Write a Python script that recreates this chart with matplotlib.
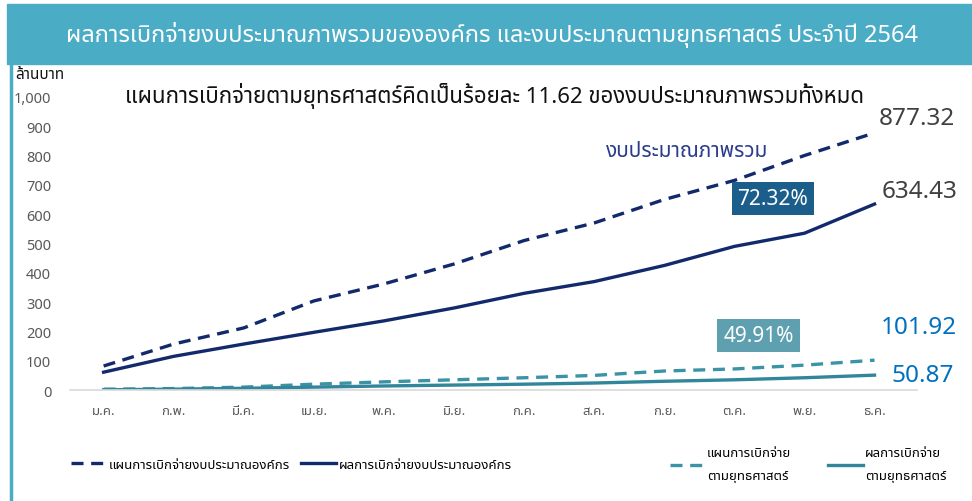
import matplotlib
matplotlib.use("Agg")
import matplotlib.pyplot as plt
from matplotlib.lines import Line2D
from matplotlib.patches import Rectangle

plt.rcParams["font.family"] = ["Noto Sans Thai", "Noto Sans", "DejaVu Sans"]

MONTHS = ["ม.ค.", "ก.พ.", "มี.ค.", "เม.ย.", "พ.ค.", "มิ.ย.",
          "ก.ค.", "ส.ค.", "ก.ย.", "ต.ค.", "พ.ย.", "ธ.ค."]
PLAN_ORG = [82, 157, 212, 304, 362, 430, 510, 570, 650, 715, 800, 877.32]
RESULT_ORG = [61, 115, 157, 197, 236, 280, 330, 370, 425, 490, 535, 634.43]
PLAN_STRAT = [3, 5, 10, 20, 28, 35, 42, 50, 65, 72, 85, 101.92]
RESULT_STRAT = [1, 3, 6, 10, 14, 17, 20, 24, 30, 35, 42, 50.87]
LABELS = ["แผนการเบิกจ่ายงบประมาณองค์กร", "ผลการเบิกจ่ายงบประมาณองค์กร",
          "แผนการเบิกจ่าย\nตามยุทธศาสตร์", "ผลการเบิกจ่าย\nตามยุทธศาสตร์"]
PCT_ORG = "72.32%"
PCT_STRAT = "49.91%"

TITLE = "ผลการเบิกจ่ายงบประมาณภาพรวมขององค์กร และงบประมาณตามยุทธศาสตร์ ประจำปี 2564"
SUBTITLE = "แผนการเบิกจ่ายตามยุทธศาสตร์คิดเป็นร้อยละ 11.62 ของงบประมาณภาพรวมทั้งหมด"

NAVY = "#12296b"
TEAL_D = "#3b93a6"
TEAL = "#31869b"
HEADER = "#4bacc6"

fig = plt.figure(figsize=(9.72, 5.02), dpi=100)

# header band + left border
fig.patches.append(Rectangle((0.0072, 0.8705), 0.9928, 0.1195, transform=fig.transFigure,
                             color=HEADER, zorder=0))
fig.add_artist(Line2D([0.0113, 0.0113], [0.0, 0.8705], transform=fig.transFigure,
                      color=HEADER, lw=2.5))
fig.text(0.506, 0.930, TITLE, color="white", fontsize=17, ha="center", va="center")
fig.text(0.016, 0.849, "ล้านบาท", fontsize=11, fontweight="bold", va="center", color="#111111")

ax = fig.add_axes([0.072, 0.221, 0.871, 0.584])
x = list(range(len(MONTHS)))

l1, = ax.plot(x, PLAN_ORG, color=NAVY, lw=2.4, dashes=(3.6, 2.3))
l2, = ax.plot(x, RESULT_ORG, color=NAVY, lw=2.4)
l3, = ax.plot(x, PLAN_STRAT, color=TEAL_D, lw=2.4, dashes=(3.6, 2.3))
l4, = ax.plot(x, RESULT_STRAT, color=TEAL, lw=2.4)

ax.set_ylim(0, 1000)
ax.set_xlim(-0.48, 11.6)
for s in ["top", "right", "left"]:
    ax.spines[s].set_visible(False)
ax.spines["bottom"].set_color("#d9d9d9")
ax.spines["bottom"].set_linewidth(1.2)
ax.set_xticks(x, MONTHS)
ax.set_yticks(range(0, 1001, 100))
ax.set_yticklabels([f"{v:,}" for v in range(0, 1001, 100)])
ax.tick_params(length=0, colors="#595959", labelsize=10.5)
ax.tick_params(axis="x", pad=10, labelsize=9.5)
ax.tick_params(axis="y", pad=13.5)

ax.text(0.502, 1.005, SUBTITLE, transform=ax.transAxes, ha="center", va="center",
        fontsize=16, color="#111111")
ax.text(8.33, 816, "งบประมาณภาพรวม", ha="center", va="center", fontsize=15, color="#2b3c8c")

# end value labels
ends = [(PLAN_ORG, (4, 15), "#404040"), (RESULT_ORG, (7, 13), "#404040"),
        (PLAN_STRAT, (6, 33), "#0070c0"), (RESULT_STRAT, (17, 0), "#0070c0")]
for series, off, col in ends:
    ax.annotate(f"{series[-1]:.2f}", xy=(x[-1], series[-1]), xytext=off,
                textcoords="offset pixels", ha="left", va="center",
                fontsize=17.5, color=col, annotation_clip=False)

ax.text(9.55, 653, PCT_ORG, ha="center", va="center", fontsize=15, color="white",
        bbox=dict(boxstyle="square,pad=0.28", fc="#1b5e8c", ec="none"))
ax.text(9.35, 186, PCT_STRAT, ha="center", va="center", fontsize=15, color="white",
        bbox=dict(boxstyle="square,pad=0.3", fc="#5fa0b0", ec="none"))

leg_kw = dict(frameon=False, fontsize=9.5, handlelength=2.6, handletextpad=0.2,
              borderaxespad=0, labelspacing=0.2)
fig.legend([l1, l2], LABELS[:2], loc="center left", bbox_to_anchor=(0.068, 0.073),
           ncol=2, columnspacing=0.9, **leg_kw)
leg2 = fig.legend([l3, l4], LABELS[2:], loc="center left", bbox_to_anchor=(0.684, 0.073),
                  ncol=2, columnspacing=2.8, **leg_kw)
for t in leg2.get_texts():
    t.set_linespacing(2.0)

fig.savefig("out.png", dpi=100)
